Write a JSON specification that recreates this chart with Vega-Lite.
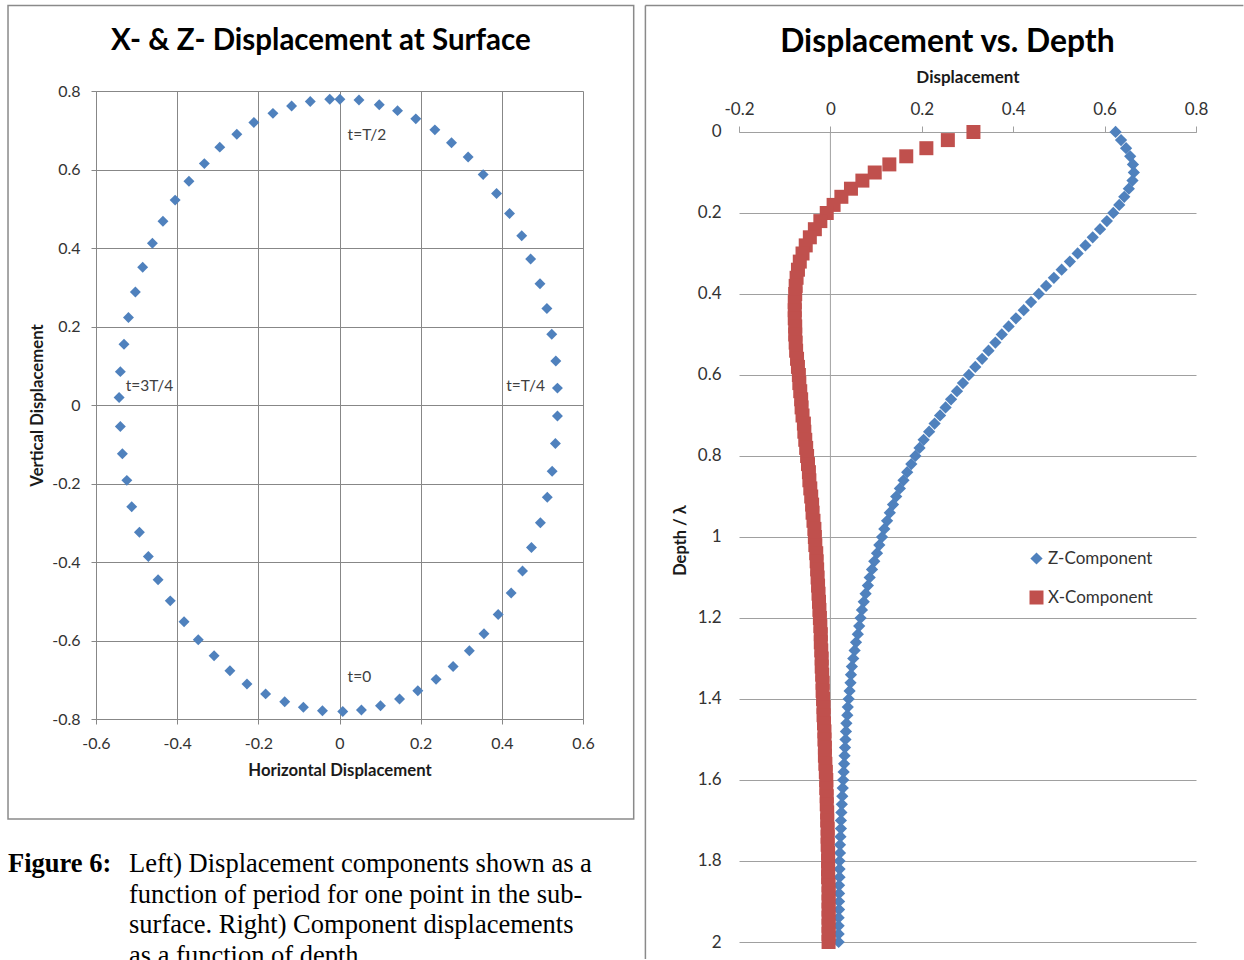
{
  "$schema": "https://vega.github.io/schema/vega-lite/v6.json",
  "background": "white",
  "padding": {"left": 7, "top": 4, "right": 0, "bottom": 0},
  "config": {
    "view": {"stroke": null},
    "font": "Lato",
    "axis": {"labelFont": "Lato", "titleFont": "Lato", "labelColor": "#333333", "titleColor": "#1a1a1a", "titleFontWeight": "bold", "labelOverlap": false, "labelFlush": false}
  },
  "datasets": {
    "orbit": [
      {"h": -0.543, "v": 0.019}, {"h": -0.540, "v": 0.085}, {"h": -0.531, "v": 0.155}, {"h": -0.520, "v": 0.223},
      {"h": -0.503, "v": 0.288}, {"h": -0.485, "v": 0.351}, {"h": -0.461, "v": 0.412}, {"h": -0.435, "v": 0.468},
      {"h": -0.405, "v": 0.522}, {"h": -0.371, "v": 0.570}, {"h": -0.333, "v": 0.615}, {"h": -0.295, "v": 0.657},
      {"h": -0.253, "v": 0.690}, {"h": -0.211, "v": 0.720}, {"h": -0.164, "v": 0.743}, {"h": -0.118, "v": 0.762},
      {"h": -0.072, "v": 0.773}, {"h": -0.024, "v": 0.779}, {"h": 0.001, "v": 0.779}, {"h": 0.048, "v": 0.777},
      {"h": 0.098, "v": 0.765}, {"h": 0.143, "v": 0.750}, {"h": 0.188, "v": 0.729}, {"h": 0.235, "v": 0.701},
      {"h": 0.276, "v": 0.668}, {"h": 0.317, "v": 0.632}, {"h": 0.354, "v": 0.587}, {"h": 0.387, "v": 0.539},
      {"h": 0.419, "v": 0.488}, {"h": 0.449, "v": 0.431}, {"h": 0.471, "v": 0.372}, {"h": 0.494, "v": 0.309},
      {"h": 0.511, "v": 0.246}, {"h": 0.523, "v": 0.180}, {"h": 0.533, "v": 0.112}, {"h": 0.537, "v": 0.043},
      {"h": 0.537, "v": -0.028}, {"h": 0.532, "v": -0.098}, {"h": 0.524, "v": -0.169}, {"h": 0.512, "v": -0.235},
      {"h": 0.495, "v": -0.300}, {"h": 0.473, "v": -0.363}, {"h": 0.451, "v": -0.423}, {"h": 0.423, "v": -0.479},
      {"h": 0.391, "v": -0.534}, {"h": 0.356, "v": -0.583}, {"h": 0.320, "v": -0.626}, {"h": 0.280, "v": -0.666},
      {"h": 0.238, "v": -0.699}, {"h": 0.193, "v": -0.728}, {"h": 0.148, "v": -0.749}, {"h": 0.101, "v": -0.766},
      {"h": 0.054, "v": -0.777}, {"h": 0.008, "v": -0.781}, {"h": -0.042, "v": -0.779}, {"h": -0.089, "v": -0.770},
      {"h": -0.135, "v": -0.756}, {"h": -0.182, "v": -0.736}, {"h": -0.228, "v": -0.711}, {"h": -0.270, "v": -0.677},
      {"h": -0.309, "v": -0.639}, {"h": -0.348, "v": -0.598}, {"h": -0.383, "v": -0.552}, {"h": -0.417, "v": -0.499},
      {"h": -0.447, "v": -0.445}, {"h": -0.471, "v": -0.386}, {"h": -0.493, "v": -0.324}, {"h": -0.512, "v": -0.259},
      {"h": -0.524, "v": -0.192}, {"h": -0.535, "v": -0.124}, {"h": -0.540, "v": -0.055}
    ],
    "profile": [
      {"depth": 0, "Z-Component": 0.624, "X-Component": 0.313},
      {"depth": 0.02, "Z-Component": 0.636, "X-Component": 0.257},
      {"depth": 0.04, "Z-Component": 0.647, "X-Component": 0.210},
      {"depth": 0.06, "Z-Component": 0.656, "X-Component": 0.166},
      {"depth": 0.08, "Z-Component": 0.662, "X-Component": 0.129},
      {"depth": 0.1, "Z-Component": 0.664, "X-Component": 0.097},
      {"depth": 0.12, "Z-Component": 0.661, "X-Component": 0.070},
      {"depth": 0.14, "Z-Component": 0.653, "X-Component": 0.045},
      {"depth": 0.16, "Z-Component": 0.643, "X-Component": 0.024},
      {"depth": 0.18, "Z-Component": 0.632, "X-Component": 0.007},
      {"depth": 0.2, "Z-Component": 0.619, "X-Component": -0.008},
      {"depth": 0.22, "Z-Component": 0.605, "X-Component": -0.022},
      {"depth": 0.24, "Z-Component": 0.590, "X-Component": -0.034},
      {"depth": 0.26, "Z-Component": 0.574, "X-Component": -0.045},
      {"depth": 0.28, "Z-Component": 0.558, "X-Component": -0.054},
      {"depth": 0.3, "Z-Component": 0.541, "X-Component": -0.061},
      {"depth": 0.32, "Z-Component": 0.524, "X-Component": -0.067},
      {"depth": 0.34, "Z-Component": 0.506, "X-Component": -0.071},
      {"depth": 0.36, "Z-Component": 0.489, "X-Component": -0.074},
      {"depth": 0.38, "Z-Component": 0.472, "X-Component": -0.076},
      {"depth": 0.4, "Z-Component": 0.456, "X-Component": -0.077},
      {"depth": 0.42, "Z-Component": 0.439, "X-Component": -0.078},
      {"depth": 0.44, "Z-Component": 0.423, "X-Component": -0.078},
      {"depth": 0.46, "Z-Component": 0.406, "X-Component": -0.078},
      {"depth": 0.48, "Z-Component": 0.390, "X-Component": -0.077},
      {"depth": 0.5, "Z-Component": 0.375, "X-Component": -0.077},
      {"depth": 0.52, "Z-Component": 0.361, "X-Component": -0.076},
      {"depth": 0.54, "Z-Component": 0.346, "X-Component": -0.075},
      {"depth": 0.56, "Z-Component": 0.332, "X-Component": -0.073},
      {"depth": 0.58, "Z-Component": 0.317, "X-Component": -0.071},
      {"depth": 0.6, "Z-Component": 0.303, "X-Component": -0.069},
      {"depth": 0.62, "Z-Component": 0.290, "X-Component": -0.068},
      {"depth": 0.64, "Z-Component": 0.277, "X-Component": -0.066},
      {"depth": 0.66, "Z-Component": 0.264, "X-Component": -0.064},
      {"depth": 0.68, "Z-Component": 0.252, "X-Component": -0.063},
      {"depth": 0.7, "Z-Component": 0.240, "X-Component": -0.061},
      {"depth": 0.72, "Z-Component": 0.228, "X-Component": -0.058},
      {"depth": 0.74, "Z-Component": 0.216, "X-Component": -0.057},
      {"depth": 0.76, "Z-Component": 0.204, "X-Component": -0.055},
      {"depth": 0.78, "Z-Component": 0.195, "X-Component": -0.053},
      {"depth": 0.8, "Z-Component": 0.186, "X-Component": -0.051},
      {"depth": 0.82, "Z-Component": 0.177, "X-Component": -0.049},
      {"depth": 0.84, "Z-Component": 0.168, "X-Component": -0.047},
      {"depth": 0.86, "Z-Component": 0.160, "X-Component": -0.046},
      {"depth": 0.88, "Z-Component": 0.152, "X-Component": -0.044},
      {"depth": 0.9, "Z-Component": 0.144, "X-Component": -0.042},
      {"depth": 0.92, "Z-Component": 0.137, "X-Component": -0.040},
      {"depth": 0.94, "Z-Component": 0.130, "X-Component": -0.039},
      {"depth": 0.96, "Z-Component": 0.124, "X-Component": -0.037},
      {"depth": 0.98, "Z-Component": 0.118, "X-Component": -0.035},
      {"depth": 1.0, "Z-Component": 0.113, "X-Component": -0.034},
      {"depth": 1.02, "Z-Component": 0.107, "X-Component": -0.033},
      {"depth": 1.04, "Z-Component": 0.102, "X-Component": -0.031},
      {"depth": 1.06, "Z-Component": 0.096, "X-Component": -0.030},
      {"depth": 1.08, "Z-Component": 0.091, "X-Component": -0.029},
      {"depth": 1.1, "Z-Component": 0.086, "X-Component": -0.028},
      {"depth": 1.12, "Z-Component": 0.082, "X-Component": -0.027},
      {"depth": 1.14, "Z-Component": 0.077, "X-Component": -0.026},
      {"depth": 1.16, "Z-Component": 0.073, "X-Component": -0.025},
      {"depth": 1.18, "Z-Component": 0.069, "X-Component": -0.024},
      {"depth": 1.2, "Z-Component": 0.066, "X-Component": -0.023},
      {"depth": 1.22, "Z-Component": 0.063, "X-Component": -0.022},
      {"depth": 1.24, "Z-Component": 0.060, "X-Component": -0.021},
      {"depth": 1.26, "Z-Component": 0.056, "X-Component": -0.021},
      {"depth": 1.28, "Z-Component": 0.053, "X-Component": -0.020},
      {"depth": 1.3, "Z-Component": 0.050, "X-Component": -0.019},
      {"depth": 1.32, "Z-Component": 0.047, "X-Component": -0.019},
      {"depth": 1.34, "Z-Component": 0.045, "X-Component": -0.018},
      {"depth": 1.36, "Z-Component": 0.044, "X-Component": -0.017},
      {"depth": 1.38, "Z-Component": 0.042, "X-Component": -0.017},
      {"depth": 1.4, "Z-Component": 0.040, "X-Component": -0.016},
      {"depth": 1.42, "Z-Component": 0.038, "X-Component": -0.015},
      {"depth": 1.44, "Z-Component": 0.037, "X-Component": -0.015},
      {"depth": 1.46, "Z-Component": 0.035, "X-Component": -0.014},
      {"depth": 1.48, "Z-Component": 0.034, "X-Component": -0.013},
      {"depth": 1.5, "Z-Component": 0.033, "X-Component": -0.013},
      {"depth": 1.52, "Z-Component": 0.032, "X-Component": -0.012},
      {"depth": 1.54, "Z-Component": 0.031, "X-Component": -0.012},
      {"depth": 1.56, "Z-Component": 0.030, "X-Component": -0.011},
      {"depth": 1.58, "Z-Component": 0.029, "X-Component": -0.010},
      {"depth": 1.6, "Z-Component": 0.028, "X-Component": -0.009},
      {"depth": 1.62, "Z-Component": 0.027, "X-Component": -0.009},
      {"depth": 1.64, "Z-Component": 0.026, "X-Component": -0.008},
      {"depth": 1.66, "Z-Component": 0.025, "X-Component": -0.008},
      {"depth": 1.68, "Z-Component": 0.024, "X-Component": -0.007},
      {"depth": 1.7, "Z-Component": 0.023, "X-Component": -0.007},
      {"depth": 1.72, "Z-Component": 0.023, "X-Component": -0.006},
      {"depth": 1.74, "Z-Component": 0.022, "X-Component": -0.006},
      {"depth": 1.76, "Z-Component": 0.021, "X-Component": -0.006},
      {"depth": 1.78, "Z-Component": 0.021, "X-Component": -0.005},
      {"depth": 1.8, "Z-Component": 0.020, "X-Component": -0.005},
      {"depth": 1.82, "Z-Component": 0.020, "X-Component": -0.005},
      {"depth": 1.84, "Z-Component": 0.020, "X-Component": -0.005},
      {"depth": 1.86, "Z-Component": 0.019, "X-Component": -0.004},
      {"depth": 1.88, "Z-Component": 0.019, "X-Component": -0.004},
      {"depth": 1.9, "Z-Component": 0.019, "X-Component": -0.004},
      {"depth": 1.92, "Z-Component": 0.019, "X-Component": -0.004},
      {"depth": 1.94, "Z-Component": 0.018, "X-Component": -0.004},
      {"depth": 1.96, "Z-Component": 0.018, "X-Component": -0.004},
      {"depth": 1.98, "Z-Component": 0.018, "X-Component": -0.004},
      {"depth": 2.0, "Z-Component": 0.018, "X-Component": -0.004}
    ],
    "captionHead": [{"role": "label", "line": 1, "text": "Figure 6:"}],
    "captionBody": [
      {"role": "body", "line": 1, "text": "Left) Displacement components shown as a"},
      {"role": "body", "line": 2, "text": "function of period for one point in the sub-"},
      {"role": "body", "line": 3, "text": "surface. Right) Component displacements"},
      {"role": "body", "line": 4, "text": "as a function of depth."}
    ]
  },
  "spacing": 9,
  "bounds": "full",
  "resolve": {
    "scale": {"color": "independent", "shape": "independent", "size": "independent"},
    "legend": {"color": "independent", "shape": "independent", "size": "independent"}
  },
  "hconcat": [
    {
      "spacing": 28,
      "bounds": "full",
      "vconcat": [
        {
          "width": 487,
          "height": 628,
          "title": {"text": "X- & Z- Displacement at Surface", "font": "Lato", "fontSize": 29.5, "fontWeight": "bold", "color": "#000000", "anchor": "middle", "frame": "bounds", "baseline": "alphabetic", "offset": -75},
          "layer": [
            {
              "data": {"values": [{}]},
              "mark": {"type": "rect", "filled": false, "stroke": "#8a8a8a", "strokeWidth": 1.5},
              "encoding": {
                "x": {"datum": -0.8168, "type": "quantitative"},
                "x2": {"datum": 0.7249},
                "y": {"datum": -1.0548, "type": "quantitative"},
                "y2": {"datum": 1.0178}
              }
            },
            {
              "data": {"name": "orbit"},
              "mark": {"type": "point", "shape": "diamond", "filled": true, "color": "#4F81BD", "size": 120, "opacity": 1, "strokeWidth": 0},
              "encoding": {
                "x": {
                  "field": "h", "type": "quantitative",
                  "scale": {"domain": [-0.6, 0.6], "nice": false, "zero": false},
                  "axis": {"title": "Horizontal Displacement", "values": [-0.6, -0.4, -0.2, 0, 0.2, 0.4, 0.6], "labelExpr": "toString(round(datum.value*10)/10)", "grid": true, "gridColor": "#878787", "domainColor": "#878787", "tickColor": "#878787", "tickSize": 5, "labelFontSize": 16, "labelPadding": 11, "titleFontSize": 16.7, "titlePadding": 11}
                },
                "y": {
                  "field": "v", "type": "quantitative",
                  "scale": {"domain": [-0.8, 0.8], "nice": false, "zero": false},
                  "axis": {"title": "Vertical Displacement", "values": [-0.8, -0.6, -0.4, -0.2, 0, 0.2, 0.4, 0.6, 0.8], "labelExpr": "toString(round(datum.value*10)/10)", "grid": true, "gridColor": "#878787", "domainColor": "#878787", "tickColor": "#878787", "tickSize": 5, "labelFontSize": 16, "labelPadding": 11, "titleFontSize": 16.7, "titlePadding": 5}
                }
              }
            },
            {
              "data": {"values": [{}]},
              "mark": {"type": "text", "align": "left", "baseline": "middle", "font": "Lato", "fontSize": 15.5, "color": "#404040", "text": "t=T/2"},
              "encoding": {"x": {"datum": 0.02, "type": "quantitative"}, "y": {"datum": 0.688, "type": "quantitative"}}
            },
            {
              "data": {"values": [{}]},
              "mark": {"type": "text", "align": "left", "baseline": "middle", "font": "Lato", "fontSize": 15.5, "color": "#404040", "text": "t=3T/4"},
              "encoding": {"x": {"datum": -0.527, "type": "quantitative"}, "y": {"datum": 0.048, "type": "quantitative"}}
            },
            {
              "data": {"values": [{}]},
              "mark": {"type": "text", "align": "left", "baseline": "middle", "font": "Lato", "fontSize": 15.5, "color": "#404040", "text": "t=T/4"},
              "encoding": {"x": {"datum": 0.411, "type": "quantitative"}, "y": {"datum": 0.048, "type": "quantitative"}}
            },
            {
              "data": {"values": [{}]},
              "mark": {"type": "text", "align": "left", "baseline": "middle", "font": "Lato", "fontSize": 15.5, "color": "#404040", "text": "t=0"},
              "encoding": {"x": {"datum": 0.02, "type": "quantitative"}, "y": {"datum": -0.693, "type": "quantitative"}}
            }
          ]
        },
        {
          "width": 200,
          "height": 60,
          "layer": [
            {
              "data": {"name": "captionHead"},
              "mark": {"type": "text", "align": "left", "baseline": "alphabetic", "font": "Liberation Serif", "fontSize": 26.5, "fontWeight": "bold", "color": "#000000"},
              "encoding": {
                "x": {"field": "role", "type": "nominal", "scale": {"type": "point", "domain": ["label", "body"], "range": [-88, 33], "padding": 0}, "axis": null},
                "y": {"field": "line", "type": "quantitative", "scale": {"domain": [1, 4], "range": [24, 115.5], "nice": false, "zero": false}, "axis": null},
                "text": {"field": "text"}
              }
            },
            {
              "data": {"name": "captionBody"},
              "mark": {"type": "text", "align": "left", "baseline": "alphabetic", "font": "Liberation Serif", "fontSize": 26.5, "color": "#000000"},
              "encoding": {
                "x": {"field": "role", "type": "nominal", "scale": {"type": "point", "domain": ["label", "body"], "range": [-88, 33], "padding": 0}, "axis": null},
                "y": {"field": "line", "type": "quantitative", "scale": {"domain": [1, 4], "range": [24, 115.5], "nice": false, "zero": false}, "axis": null},
                "text": {"field": "text"}
              }
            }
          ]
        }
      ]
    },
    {
      "width": 457,
      "height": 851,
      "title": {"text": "Displacement vs. Depth", "font": "Lato", "fontSize": 31.8, "fontWeight": "bold", "color": "#000000", "anchor": "middle", "frame": "bounds", "baseline": "alphabetic", "offset": -79, "dx": 3},
      "layer": [
        {
          "data": {"values": [{}]},
          "mark": {"type": "rule", "color": "#8a8a8a", "strokeWidth": 1.5},
          "encoding": {
            "x": {"datum": -0.4048, "type": "quantitative"},
            "x2": {"datum": 0.9037},
            "y": {"datum": -0.3123, "type": "quantitative"}
          }
        },
        {
          "data": {"values": [{}]},
          "mark": {"type": "rule", "color": "#8a8a8a", "strokeWidth": 1.5},
          "encoding": {
            "x": {"datum": -0.4048, "type": "quantitative"},
            "y": {"datum": -0.3123, "type": "quantitative"},
            "y2": {"datum": 2.042}
          }
        },
        {
          "data": {"values": [{}]},
          "mark": {"type": "rule", "color": "#a0a0a0", "strokeWidth": 1},
          "encoding": {
            "x": {"datum": 0, "type": "quantitative"},
            "y": {"datum": 0, "type": "quantitative"},
            "y2": {"datum": 2}
          }
        },
        {
          "data": {"name": "profile"},
          "transform": [{"fold": ["Z-Component", "X-Component"], "as": ["series", "disp"]}],
          "mark": {"type": "point", "filled": true, "opacity": 1, "strokeWidth": 0},
          "encoding": {
            "x": {
              "field": "disp", "type": "quantitative",
              "scale": {"domain": [-0.2, 0.8], "nice": false, "zero": false},
              "axis": {"orient": "top", "offset": -41, "title": "Displacement", "values": [-0.2, 0, 0.2, 0.4, 0.6, 0.8], "labelExpr": "toString(round(datum.value*10)/10)", "grid": false, "domainColor": "#a0a0a0", "tickColor": "#a0a0a0", "tickSize": 6, "labelFontSize": 17, "labelPadding": 8, "titleFontSize": 17, "titlePadding": 13.5}
            },
            "y": {
              "field": "depth", "type": "quantitative",
              "scale": {"domain": [-0.10123, 2], "reverse": true, "nice": false, "zero": false},
              "axis": {"title": "Depth / λ", "titleY": 449, "values": [0, 0.2, 0.4, 0.6, 0.8, 1, 1.2, 1.4, 1.6, 1.8, 2], "labelExpr": "toString(round(datum.value*10)/10)", "grid": true, "gridColor": "#a0a0a0", "domain": false, "ticks": false, "labelFontSize": 17, "labelPadding": 18, "titleFontSize": 16.5, "titlePadding": 9}
            },
            "color": {
              "field": "series", "type": "nominal",
              "scale": {"domain": ["Z-Component", "X-Component"], "range": ["#4F81BD", "#C0504D"]},
              "legend": {"orient": "none", "legendX": 289, "legendY": 459, "title": null, "labelFont": "Lato", "labelFontSize": 17, "labelColor": "#333333", "symbolSize": 110, "symbolStrokeWidth": 0, "rowPadding": 21, "labelOffset": 3, "padding": 0}
            },
            "shape": {
              "field": "series", "type": "nominal",
              "scale": {"domain": ["Z-Component", "X-Component"], "range": ["diamond", "square"]}
            },
            "size": {
              "field": "series", "type": "nominal",
              "scale": {"domain": ["Z-Component", "X-Component"], "range": [150, 196]},
              "legend": null
            },
            "order": {"field": "series", "type": "ordinal", "sort": "descending"}
          }
        }
      ]
    }
  ]
}
